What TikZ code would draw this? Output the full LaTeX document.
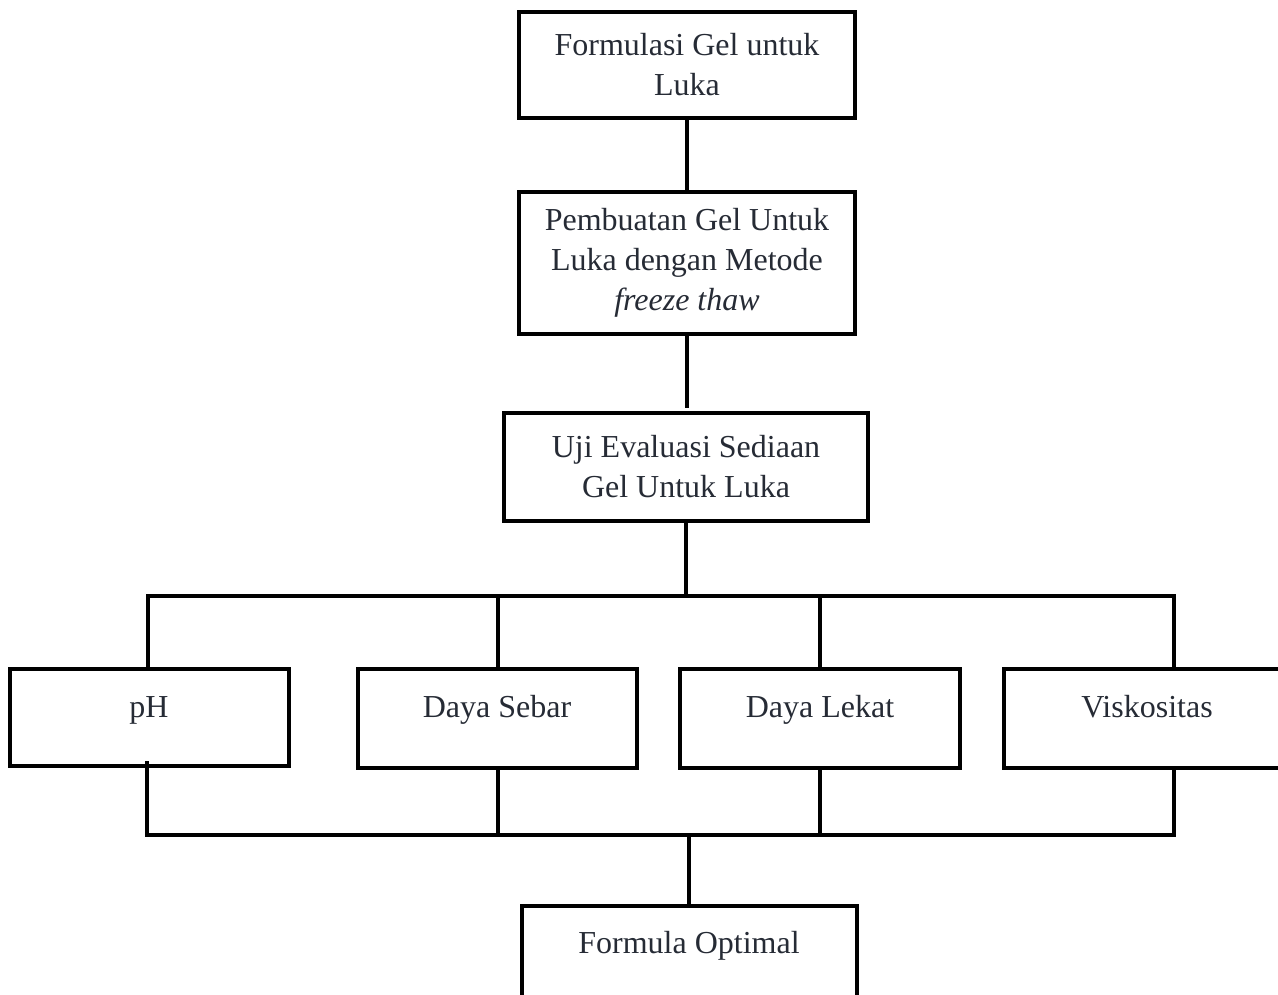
\documentclass[tikz,border=0pt]{standalone}
\usepackage{fontspec}
\setmainfont{Liberation Serif}
\definecolor{txtc}{HTML}{262B35}
\begin{document}
\begin{tikzpicture}[x=1pt,y=-1pt,
  box/.style={draw=black, line width=4pt, rectangle, inner sep=0pt},
  lblm/.style={text=txtc, font=\fontsize{32}{40}\selectfont, align=center},
  lbl/.style={lblm, text height=22pt, text depth=8pt, inner sep=0pt},
  conn/.style={line width=4pt, line cap=rect}]
\useasboundingbox (0,0) rectangle (1278,995);
\clip (0,0) rectangle (1278,995);
% top chain
\node[box, lblm, minimum width=336pt, minimum height=106pt] (f1) at (687,65)
  {Formulasi Gel untuk\\Luka};
\node[box, lblm, minimum width=336pt, minimum height=142pt] (f2) at (687,263)
  {Pembuatan Gel Untuk\\Luka dengan Metode\\\textit{freeze thaw}};
\node[box, lblm, minimum width=364pt, minimum height=108pt] (f3) at (686,467)
  {Uji Evaluasi Sediaan\\Gel Untuk Luka};
% row boxes
\node[box, minimum width=279pt, minimum height=97pt] (ph) at (149.5,717.5) {};
\node[box, minimum width=279pt, minimum height=99pt] (ds) at (497.5,718.5) {};
\node[box, minimum width=280pt, minimum height=99pt] (dl) at (820,718.5) {};
\node[box, minimum width=279pt, minimum height=99pt] (vk) at (1143.5,718.5) {};
\node[lbl] (tph) at (149,710) {pH};
\node[lbl] (tds) at (497,710) {Daya Sebar};
\node[lbl] (tdl) at (820,710) {Daya Lekat};
\node[lbl] (tvk) at (1147,710) {Viskositas};
% bottom box
\node[box, minimum width=335pt, minimum height=160pt] (fo) at (689.5,986) {};
\node[lbl] (tfo) at (689,946) {Formula Optimal};
% coordinates
\coordinate (bt) at (686,596);
\coordinate (bb) at (689,835);
\coordinate (vkt) at (1174,669);
\coordinate (vkb) at (1174,768);
% connectors
\draw[conn] (f1.south) -- (f2.north);
\draw[conn, shorten >=5pt] (f2.south) -- (f2.south |- f3.north);
\draw[conn] (f3.south) -- (bt);
\draw[conn] (ph.north -| 148,0) |- (vkt |- bt) -- (vkt);
\draw[conn] (ds.north) -- (ds.north |- bt);
\draw[conn] (dl.north) -- (dl.north |- bt);
\draw[conn] (147,763) |- (vkb |- bb) -- (vkb);
\draw[conn] (ds.south) -- (ds.south |- bb);
\draw[conn] (dl.south) -- (dl.south |- bb);
\draw[conn] (bb) -- (fo.north -| bb);
\end{tikzpicture}
\end{document}
